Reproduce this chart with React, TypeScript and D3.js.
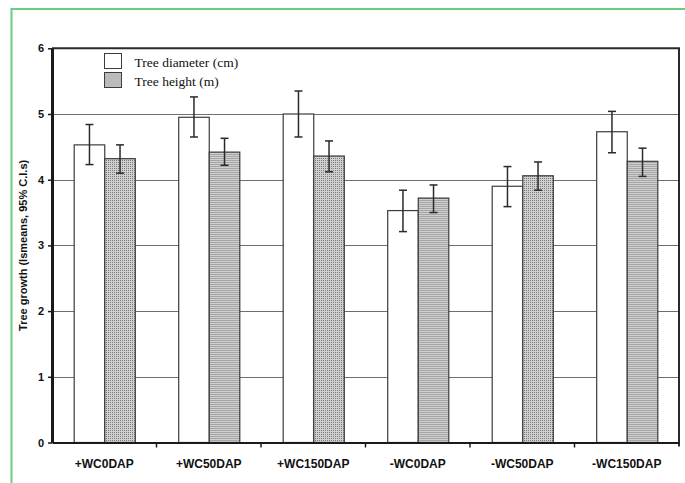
import React, { useEffect, useRef } from 'react';
import * as d3 from 'd3';

// treatments on the x axis
const categories = ['+WC0DAP', '+WC50DAP', '+WC150DAP', '-WC0DAP', '-WC50DAP', '-WC150DAP'];

// lsmeans with 95% C.I. bounds
const diameter = [4.53, 4.95, 5.0, 3.53, 3.9, 4.73];
const diameterLo = [4.23, 4.65, 4.65, 3.21, 3.59, 4.41];
const diameterHi = [4.84, 5.26, 5.35, 3.84, 4.2, 5.04];

const heightVals = [4.32, 4.42, 4.36, 3.72, 4.06, 4.28];
const heightLo = [4.1, 4.22, 4.12, 3.5, 3.84, 4.05];
const heightHi = [4.53, 4.63, 4.59, 3.92, 4.27, 4.48];

const yTicks = [0, 1, 2, 3, 4, 5, 6];
const seriesKeys = ['diameter', 'height'];
const legendLabels = ['Tree diameter (cm)', 'Tree height (m)'];

const W = 685;
const H = 483;

const App = () => {
    const ref = useRef<SVGSVGElement | null>(null);

    useEffect(() => {
        if (!ref.current) return;
        const root = d3.select(ref.current);
        root.selectAll('*').remove();

        const left = 52, right = 679, top = 48.3, bottom = 442.5;
        const sans = '"Liberation Sans", Arial, sans-serif';
        const serif = '"Liberation Serif", "Times New Roman", serif';

        const x0 = d3.scaleBand<string>().domain(categories).range([left, right]).padding(0);
        const x1 = d3.scaleBand<string>().domain(seriesKeys).range([0, x0.bandwidth()]).paddingInner(0).paddingOuter(0.71);
        const y = d3.scaleLinear().domain([0, 6]).range([bottom, top]);

        // stipple fill for tree height (dot grid)
        const defs = root.append('defs');
        const pat = defs.append('pattern')
            .attr('id', 'stipple')
            .attr('patternUnits', 'userSpaceOnUse')
            .attr('width', 2).attr('height', 2);
        pat.append('rect').attr('width', 2).attr('height', 2).attr('fill', '#d0d0d0');
        pat.append('rect').attr('x', 0).attr('y', 0).attr('width', 1).attr('height', 1).attr('fill', '#7a7a7a');

        // green frame
        root.append('path')
            .attr('d', `M11.5,${H} L11.5,9 L${W},9`)
            .attr('fill', 'none')
            .attr('stroke', '#6ccb7e')
            .attr('stroke-width', 2);

        // gridlines
        root.append('g').selectAll('line')
            .data(yTicks.filter(t => t > 0 && t < 6))
            .enter().append('line')
            .attr('x1', left).attr('x2', right)
            .attr('y1', d => Math.round(y(d)) + 0.5).attr('y2', d => Math.round(y(d)) + 0.5)
            .attr('stroke', '#6e6e6e').attr('stroke-width', 1);

        // bars
        const rows = categories.map((c, i) => ({
            c,
            vals: [
                { k: 'diameter', v: diameter[i], lo: diameterLo[i], hi: diameterHi[i] },
                { k: 'height', v: heightVals[i], lo: heightLo[i], hi: heightHi[i] },
            ],
        }));

        const g = root.append('g').selectAll('g')
            .data(rows).enter().append('g')
            .attr('transform', d => `translate(${x0(d.c)},0)`);

        g.selectAll('rect')
            .data(d => d.vals).enter().append('rect')
            .attr('x', d => (x1(d.k) as number) + 0.5)
            .attr('y', d => y(d.v))
            .attr('width', x1.bandwidth())
            .attr('height', d => y(0) - y(d.v))
            .attr('fill', d => d.k === 'diameter' ? '#ffffff' : 'url(#stipple)')
            .attr('stroke', '#3c3c3c')
            .attr('stroke-width', 1.2);

        // error bars
        const eb = g.selectAll('g.err')
            .data(d => d.vals).enter().append('g').attr('class', 'err')
            .attr('transform', d => `translate(${(x1(d.k) as number) + x1.bandwidth() / 2 + 0.5},0)`);
        eb.append('line').attr('x1', 0).attr('x2', 0)
            .attr('y1', d => y(d.lo)).attr('y2', d => y(d.hi))
            .attr('stroke', '#2a2a2a').attr('stroke-width', 1.5);
        eb.append('line').attr('x1', -4).attr('x2', 4)
            .attr('y1', d => y(d.lo)).attr('y2', d => y(d.lo))
            .attr('stroke', '#2a2a2a').attr('stroke-width', 1.5);
        eb.append('line').attr('x1', -4).attr('x2', 4)
            .attr('y1', d => y(d.hi)).attr('y2', d => y(d.hi))
            .attr('stroke', '#2a2a2a').attr('stroke-width', 1.5);

        // plot frame: top and right
        root.append('path')
            .attr('d', `M${left},${top} L${right},${top} L${right},${bottom + 4}`)
            .attr('fill', 'none').attr('stroke', '#2a2a2a').attr('stroke-width', 2);

        // y axis
        const ya = root.append('g').attr('transform', `translate(${left},0)`)
            .call(d3.axisLeft(y).tickValues(yTicks).tickFormat(d3.format('d')).tickSizeInner(4).tickSizeOuter(0).tickPadding(4));
        ya.select('.domain').attr('stroke', '#1a1a1a').attr('stroke-width', 3);
        ya.selectAll('.tick line').attr('stroke', '#1a1a1a').attr('stroke-width', 1.5);
        ya.selectAll('text').attr('fill', '#111').style('font-size', '11px').style('font-weight', 'bold').style('font-family', sans);

        // x axis
        const xa = root.append('g').attr('transform', `translate(0,${bottom})`)
            .call(d3.axisBottom(x0).tickSize(0).tickPadding(17));
        xa.select('.domain').attr('stroke', '#1a1a1a').attr('stroke-width', 2);
        xa.selectAll('text').attr('fill', '#111').style('font-size', '12px').style('font-weight', 'bold').style('font-family', sans);
        // tick marks at category boundaries
        xa.selectAll('line.sep')
            .data(categories.slice(1)).enter().append('line').attr('class', 'sep')
            .attr('x1', d => x0(d) as number).attr('x2', d => x0(d) as number)
            .attr('y1', 0).attr('y2', 5)
            .attr('stroke', '#1a1a1a').attr('stroke-width', 1.5);

        // y axis title
        root.append('text')
            .attr('transform', `translate(27,${(top + bottom) / 2}) rotate(-90)`)
            .attr('text-anchor', 'middle')
            .attr('fill', '#111')
            .style('font-size', '11px')
            .style('font-weight', 'bold')
            .style('font-family', sans)
            .text('Tree growth (lsmeans, 95% C.I.s)');

        // legend
        const lg = root.append('g').selectAll('g')
            .data(seriesKeys).enter().append('g')
            .attr('transform', (d, i) => `translate(104.5,${53.5 + i * 19})`);
        lg.append('rect')
            .attr('width', 17).attr('height', 15)
            .attr('fill', d => d === 'diameter' ? '#ffffff' : 'url(#stipple)')
            .attr('stroke', '#3c3c3c').attr('stroke-width', 1);
        lg.append('text')
            .attr('x', 30).attr('y', 13)
            .attr('fill', '#111')
            .style('font-size', '13.5px')
            .style('font-family', serif)
            .text((d, i) => legendLabels[i]);
    }, []);

    return (
        <svg ref={ref} width={W} height={H} style={{ position: 'absolute', left: 0, top: 0, background: '#fff' }} />
    );
};

export default App;
